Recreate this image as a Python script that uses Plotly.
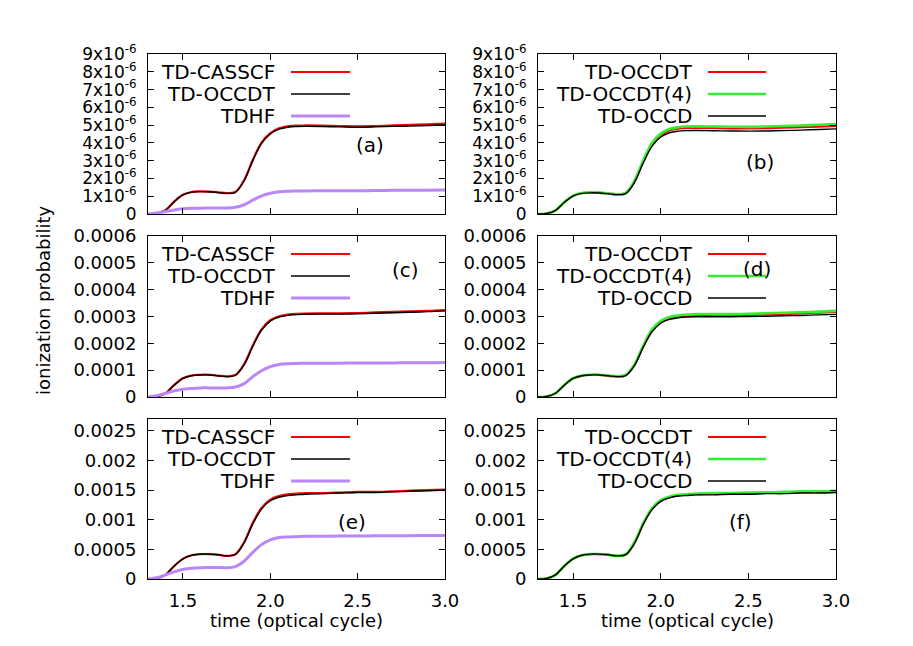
import plotly.graph_objects as go

# tempo em ciclos ópticos (comum a todos os painéis)
tempo = [1.30, 1.35, 1.40, 1.45, 1.50, 1.55, 1.60, 1.65, 1.70, 1.75, 1.80, 1.85, 1.90,
         1.95, 2.00, 2.05, 2.10, 2.15, 2.20, 2.30, 2.40, 2.50, 2.60, 2.70, 2.80, 2.90, 3.00]

# painel (a) - unidades de 1e-6
a_casscf = [0.0, 0.03, 0.22, 0.70, 1.08, 1.24, 1.27, 1.26, 1.22, 1.17, 1.24, 1.90, 3.05,
            4.02, 4.55, 4.82, 4.93, 4.97, 4.98, 4.97, 4.95, 4.93, 4.95, 4.98, 5.01, 5.04, 5.08]
a_occdt = [0.0, 0.03, 0.21, 0.69, 1.07, 1.23, 1.26, 1.25, 1.21, 1.16, 1.22, 1.87, 3.00,
           3.97, 4.50, 4.77, 4.88, 4.92, 4.93, 4.92, 4.90, 4.88, 4.90, 4.93, 4.95, 4.98, 5.01]
a_tdhf = [0.0, 0.05, 0.14, 0.23, 0.29, 0.32, 0.33, 0.34, 0.34, 0.34, 0.38, 0.52, 0.78,
          1.02, 1.17, 1.25, 1.28, 1.29, 1.30, 1.31, 1.31, 1.31, 1.32, 1.33, 1.33, 1.34, 1.35]

# painel (b) - unidades de 1e-6
b_occdt = [0.0, 0.03, 0.20, 0.66, 1.02, 1.17, 1.20, 1.19, 1.15, 1.10, 1.17, 1.82, 2.95,
           3.92, 4.45, 4.70, 4.80, 4.84, 4.85, 4.84, 4.82, 4.81, 4.83, 4.86, 4.89, 4.92, 4.96]
b_occdt4 = [0.0, 0.03, 0.21, 0.67, 1.03, 1.18, 1.21, 1.20, 1.16, 1.11, 1.19, 1.86, 3.01,
            3.99, 4.52, 4.78, 4.88, 4.92, 4.93, 4.92, 4.91, 4.90, 4.92, 4.95, 4.98, 5.02, 5.06]
b_occd = [0.0, 0.03, 0.20, 0.65, 1.01, 1.16, 1.19, 1.18, 1.14, 1.09, 1.15, 1.77, 2.86,
          3.80, 4.33, 4.57, 4.66, 4.69, 4.70, 4.68, 4.67, 4.66, 4.67, 4.69, 4.72, 4.75, 4.79]

# painel (c) - unidades de 1e-4
c_casscf = [0.0, 0.02, 0.14, 0.45, 0.70, 0.80, 0.83, 0.83, 0.80, 0.77, 0.82, 1.22, 1.92,
            2.52, 2.86, 3.01, 3.07, 3.10, 3.11, 3.12, 3.12, 3.13, 3.15, 3.17, 3.19, 3.21, 3.24]
c_occdt = [0.0, 0.02, 0.14, 0.44, 0.69, 0.79, 0.82, 0.82, 0.79, 0.76, 0.81, 1.20, 1.89,
           2.49, 2.83, 2.98, 3.04, 3.07, 3.08, 3.09, 3.09, 3.10, 3.12, 3.14, 3.16, 3.18, 3.21]
c_tdhf = [0.0, 0.05, 0.14, 0.23, 0.29, 0.32, 0.34, 0.34, 0.34, 0.34, 0.37, 0.50, 0.76,
          0.98, 1.13, 1.21, 1.24, 1.25, 1.26, 1.26, 1.26, 1.27, 1.27, 1.27, 1.28, 1.28, 1.29]

# painel (d) - unidades de 1e-4
d_occdt = [0.0, 0.02, 0.14, 0.44, 0.69, 0.79, 0.82, 0.82, 0.79, 0.76, 0.81, 1.19, 1.88,
           2.47, 2.80, 2.94, 3.00, 3.03, 3.05, 3.05, 3.05, 3.06, 3.08, 3.10, 3.12, 3.14, 3.17]
d_occdt4 = [0.0, 0.02, 0.14, 0.45, 0.70, 0.80, 0.83, 0.83, 0.80, 0.77, 0.82, 1.21, 1.91,
            2.51, 2.84, 2.98, 3.04, 3.07, 3.09, 3.09, 3.09, 3.10, 3.12, 3.14, 3.16, 3.18, 3.21]
d_occd = [0.0, 0.02, 0.14, 0.44, 0.69, 0.79, 0.82, 0.82, 0.79, 0.76, 0.80, 1.17, 1.85,
          2.43, 2.75, 2.89, 2.95, 2.98, 2.99, 2.99, 2.99, 3.00, 3.01, 3.03, 3.04, 3.06, 3.08]

# painel (e) - unidades de 1e-3
e_casscf = [0.0, 0.01, 0.07, 0.22, 0.34, 0.40, 0.42, 0.42, 0.41, 0.39, 0.42, 0.62, 0.95,
            1.20, 1.34, 1.40, 1.43, 1.44, 1.45, 1.45, 1.46, 1.47, 1.47, 1.48, 1.49, 1.50, 1.51]
e_occdt = [0.0, 0.01, 0.07, 0.22, 0.34, 0.40, 0.42, 0.42, 0.41, 0.39, 0.41, 0.61, 0.93,
           1.18, 1.32, 1.38, 1.41, 1.42, 1.43, 1.44, 1.45, 1.46, 1.46, 1.47, 1.48, 1.49, 1.50]
e_tdhf = [0.0, 0.02, 0.07, 0.12, 0.16, 0.18, 0.19, 0.195, 0.195, 0.19, 0.21, 0.30, 0.45,
          0.58, 0.66, 0.70, 0.71, 0.715, 0.72, 0.72, 0.725, 0.725, 0.73, 0.73, 0.73, 0.735, 0.735]

# painel (f) - unidades de 1e-3
f_occdt = [0.0, 0.01, 0.07, 0.22, 0.34, 0.40, 0.42, 0.42, 0.41, 0.39, 0.41, 0.61, 0.93,
           1.18, 1.32, 1.38, 1.41, 1.42, 1.43, 1.44, 1.45, 1.45, 1.46, 1.46, 1.47, 1.47, 1.48]
f_occdt4 = [0.0, 0.01, 0.07, 0.22, 0.34, 0.40, 0.42, 0.42, 0.41, 0.39, 0.42, 0.62, 0.94,
            1.19, 1.33, 1.39, 1.42, 1.43, 1.44, 1.45, 1.45, 1.46, 1.46, 1.47, 1.48, 1.48, 1.49]
f_occd = [0.0, 0.01, 0.07, 0.22, 0.34, 0.40, 0.42, 0.42, 0.41, 0.39, 0.41, 0.60, 0.92,
          1.17, 1.31, 1.37, 1.40, 1.41, 1.42, 1.42, 1.43, 1.43, 1.44, 1.44, 1.45, 1.45, 1.46]

escala = {'a': 1e-6, 'b': 1e-6, 'c': 1e-4, 'd': 1e-4, 'e': 1e-3, 'f': 1e-3}

ticks_a = [0, 1e-6, 2e-6, 3e-6, 4e-6, 5e-6, 6e-6, 7e-6, 8e-6, 9e-6]
ticktext_a = ['0'] + [f'{i}x10<sup>-6</sup>' for i in range(1, 10)]
ticks_c = [0, 0.0001, 0.0002, 0.0003, 0.0004, 0.0005, 0.0006]
ticktext_c = ['0', '0.0001', '0.0002', '0.0003', '0.0004', '0.0005', '0.0006']
ticks_e = [0, 0.0005, 0.001, 0.0015, 0.002, 0.0025]
ticktext_e = ['0', '0.0005', '0.001', '0.0015', '0.002', '0.0025']

VERMELHO = '#ff0000'
PRETO = '#000000'
ROXO = '#b987f9'
VERDE = '#33ee33'
FONTE = 'DejaVu Sans'

paineis = [
    ('a', 1, [('TD-CASSCF', a_casscf, VERMELHO, 2.2), ('TD-OCCDT', a_occdt, PRETO, 1.4),
              ('TDHF', a_tdhf, ROXO, 3)], [0, 9e-6], ticks_a, ticktext_a),
    ('b', 2, [('TD-OCCDT', b_occdt, VERMELHO, 2.2), ('TD-OCCDT(4)', b_occdt4, VERDE, 2.6),
              ('TD-OCCD', b_occd, PRETO, 1.4)], [0, 9e-6], ticks_a, ticktext_a),
    ('c', 3, [('TD-CASSCF', c_casscf, VERMELHO, 2.2), ('TD-OCCDT', c_occdt, PRETO, 1.4),
              ('TDHF', c_tdhf, ROXO, 3)], [0, 0.0006], ticks_c, ticktext_c),
    ('d', 4, [('TD-OCCDT', d_occdt, VERMELHO, 2.2), ('TD-OCCDT(4)', d_occdt4, VERDE, 2.6),
              ('TD-OCCD', d_occd, PRETO, 1.4)], [0, 0.0006], ticks_c, ticktext_c),
    ('e', 5, [('TD-CASSCF', e_casscf, VERMELHO, 2.2), ('TD-OCCDT', e_occdt, PRETO, 1.4),
              ('TDHF', e_tdhf, ROXO, 3)], [0, 0.0027], ticks_e, ticktext_e),
    ('f', 6, [('TD-OCCDT', f_occdt, VERMELHO, 2.2), ('TD-OCCDT(4)', f_occdt4, VERDE, 2.6),
              ('TD-OCCD', f_occd, PRETO, 1.4)], [0, 0.0027], ticks_e, ticktext_e),
]

# a pagina tem margem de 8px no body; a figura fica deslocada e menor
OFF = 8
W, H = 913 - 2 * OFF, 646 - 2 * OFF


def px(x):
    return (x - OFF) / W


def py(y):
    return 1 - (y - OFF) / H


# caixas dos paineis em pixels da janela (x0, x1, y_topo, y_base)
colunas = [(148, 445), (538, 836)]
linhas = [(54, 214), (236, 397), (419, 579)]
# posicao do rotulo (a)...(f) em pixels
pos_rotulo = {'a': (370, 145), 'b': (760, 162), 'c': (405, 270),
              'd': (757, 269), 'e': (352, 522), 'f': (740, 522)}

fig = go.Figure()
layout = dict(
    width=W, height=H,
    margin=dict(l=0, r=0, t=0, b=0, pad=0, autoexpand=False),
    plot_bgcolor='white',
    paper_bgcolor='white',
    font=dict(family=FONTE, size=18, color='black'),
    showlegend=False,
)
anotacoes = []
formas = []

for letra, n, series, faixa, tv, tt in paineis:
    col = (n - 1) % 2
    lin = (n - 1) // 2
    x0, x1 = colunas[col]
    yt, yb = linhas[lin]
    sx = '' if n == 1 else str(n)
    for nome, vals, cor, larg in series:
        fig.add_trace(go.Scatter(
            x=tempo,
            y=[v * escala[letra] for v in vals],
            mode='lines',
            line=dict(color=cor, width=larg, shape='spline'),
            name=nome,
            xaxis='x' + sx, yaxis='y' + sx,
        ))
    layout['xaxis' + sx] = dict(
        domain=[px(x0), px(x1)], anchor='y' + sx, automargin=False,
        range=[1.3, 3.0], tickvals=[1.5, 2.0, 2.5, 3.0], ticktext=['1.5', '2.0', '2.5', '3.0'],
        ticks='inside', ticklen=6, tickcolor='black', showline=True, linecolor='black',
        linewidth=1, mirror='allticks', showgrid=False, zeroline=False,
        showticklabels=(lin == 2), ticklabelstandoff=5,
        tickfont=dict(size=18),
    )
    layout['yaxis' + sx] = dict(
        domain=[py(yb), py(yt)], anchor='x' + sx, automargin=False,
        range=faixa, tickvals=tv, ticktext=tt,
        ticks='inside', ticklen=6, tickcolor='black', showline=True, linecolor='black',
        linewidth=1, mirror='allticks', showgrid=False, zeroline=False,
        ticklabelstandoff=7,
        tickfont=dict(size=18 if letra not in 'ab' else 17),
    )
    # legenda estilo gnuplot: texto alinhado a direita, amostra de linha depois
    if col == 0:
        xt, xl0, xl1 = 277, 291, 350
    else:
        xt, xl0, xl1 = 694, 708, 766
    for k, (nome, vals, cor, larg) in enumerate(series):
        yy = yt + 18 + 22 * k
        anotacoes.append(dict(
            x=px(xt), y=py(yy), xref='paper', yref='paper',
            text=nome, showarrow=False, xanchor='right', yanchor='middle',
            font=dict(size=20, color='black'),
        ))
        formas.append(dict(
            type='line', xref='paper', yref='paper',
            x0=px(xl0), x1=px(xl1), y0=py(yy), y1=py(yy),
            line=dict(color=cor, width=larg),
        ))
    rx, ry = pos_rotulo[letra]
    anotacoes.append(dict(
        x=px(rx), y=py(ry), xref='paper', yref='paper',
        text=f'({letra})', showarrow=False, xanchor='center', yanchor='middle',
        font=dict(size=20, color='black'),
    ))
    if lin == 2:
        anotacoes.append(dict(
            x=px((x0 + x1) / 2), y=py(620), xref='paper', yref='paper',
            text='time (optical cycle)', showarrow=False,
            xanchor='center', yanchor='middle', font=dict(size=18, color='black'),
        ))

anotacoes.append(dict(
    x=px(43), y=py(301), xref='paper', yref='paper',
    text='ionization probability', showarrow=False, textangle=-90,
    xanchor='center', yanchor='middle', font=dict(size=18, color='black'),
))

layout['annotations'] = anotacoes
layout['shapes'] = formas
fig.update_layout(**layout)

fig.write_html("out.html")
